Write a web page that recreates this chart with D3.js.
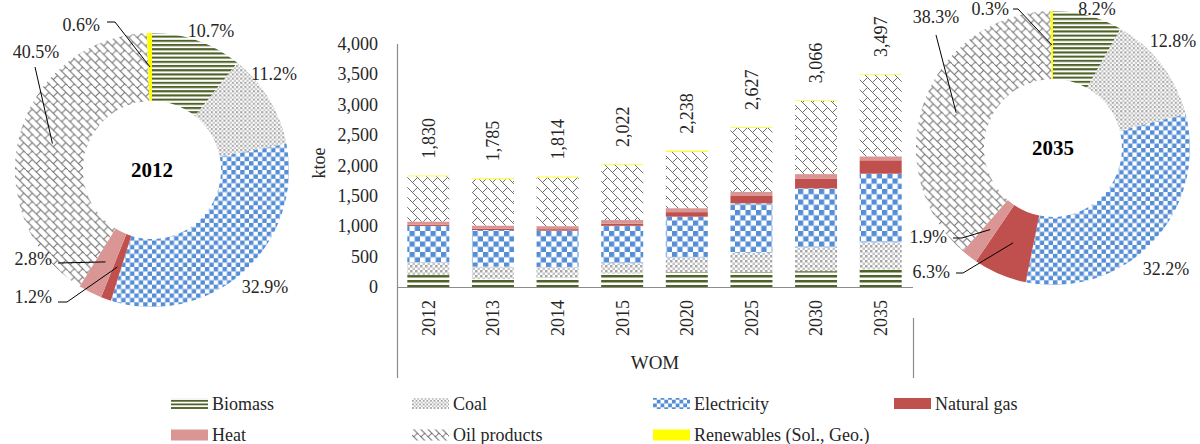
<!DOCTYPE html>
<html>
<head>
<meta charset="utf-8">
<script src="https://cdn.jsdelivr.net/npm/d3@7"></script>
<style>
  html, body { margin: 0; padding: 0; background: #fff; }
  svg { display: block; }
  text { font-family: "Liberation Serif", "DejaVu Serif", serif; }
</style>
</head>
<body>
<svg id="chart" width="1200" height="444"></svg>
<script>
// ---- Final energy demand by fuel, WOM scenario (ktoe) ----
const years = ["2012", "2013", "2014", "2015", "2020", "2025", "2030", "2035"];
const fuels = ["Biomass", "Coal", "Electricity", "Natural gas", "Heat", "Oil products", "Renewables (Sol., Geo.)"];

const biomass     = [196, 130, 150, 220, 250, 250, 260, 287];
const coal        = [205, 205, 180, 170, 235, 315, 390, 448];
const electricity = [602, 600, 595, 615, 670, 810, 970, 1126];
const naturalGas  = [22, 20, 25, 35, 75, 120, 155, 220];
const heat        = [51, 55, 50, 60, 65, 70, 80, 66];
const oilProducts = [743, 760, 800, 910, 925, 1050, 1200, 1340];
const renewables  = [11, 15, 14, 12, 18, 12, 11, 10];
const totals      = [1830, 1785, 1814, 2022, 2238, 2627, 3066, 3497];

// fuel shares (%) in the two donut years
const share2012 = [10.7, 11.2, 32.9, 1.2, 2.8, 40.5, 0.6];
const share2035 = [8.2, 12.8, 32.2, 6.3, 1.9, 38.3, 0.3];

const yTicks = [0, 500, 1000, 1500, 2000, 2500, 3000, 3500, 4000];
const axisTitle = "ktoe";
const groupTitle = "WOM";

// ---- styling ----
const fuelKeys = ["biomass", "coal", "electricity", "gas", "heat", "oil", "renew"];
const solidColors = { gas: "#C0504D", heat: "#D99694", renew: "#FFFF00" };
const font = "Liberation Serif";

const svg = d3.select("#chart");
const defs = svg.append("defs");

// Fill patterns, one set per scale (bars, donuts, legend)
function addPatterns(tag, s) {
  const pat = (name, w, h) => defs.append("pattern")
    .attr("id", `${name}-${tag}`)
    .attr("patternUnits", "userSpaceOnUse")
    .attr("width", w).attr("height", h);

  // Biomass: dark olive horizontal stripes
  let p = pat("biomass", 10, 4 * s);
  p.append("rect").attr("width", 10).attr("height", 4 * s).attr("fill", "#fff");
  p.append("rect").attr("width", 10).attr("height", 2 * s).attr("fill", "#4F6228");

  // Coal: grey confetti dots
  p = pat("coal", 4 * s, 4 * s);
  p.append("rect").attr("width", 4 * s).attr("height", 4 * s).attr("fill", "#fff");
  p.append("rect").attr("width", 2 * s).attr("height", 2 * s).attr("fill", "#A6A6A6");
  p.append("rect").attr("x", 2 * s).attr("y", 2 * s).attr("width", 2 * s).attr("height", 2 * s).attr("fill", "#C4C4C4");

  // Electricity: blue checkerboard
  const c = 4.2 * s;
  p = pat("electricity", 2 * c, 2 * c);
  p.append("rect").attr("width", 2 * c).attr("height", 2 * c).attr("fill", "#fff");
  p.append("rect").attr("width", c).attr("height", c).attr("fill", "#558ED5");
  p.append("rect").attr("x", c).attr("y", c).attr("width", c).attr("height", c).attr("fill", "#558ED5");

  // Oil products: grey shingle
  const k = s;
  p = pat("oil", 8 * k, 16 * k);
  p.append("rect").attr("width", 8 * k).attr("height", 16 * k).attr("fill", "#fff");
  const segs = [
    [-1, -1, 9, 9], [-1, 7, 9, 17],
    [6, 6, 2, 10], [6, 14, 4, 16], [4, 0, 2, 2]
  ];
  p.append("path")
    .attr("d", segs.map(q => `M${q[0] * k},${q[1] * k}L${q[2] * k},${q[3] * k}`).join(""))
    .attr("stroke", "#6E6E6E").attr("stroke-width", 1).attr("fill", "none");
}
addPatterns("bar", 1.25);
addPatterns("donut", 1.05);
addPatterns("legend", 0.9);

const fillFor = (key, tag) => solidColors[key] || `url(#${key}-${tag})`;

// ================= Stacked bar chart =================
const seriesArrays = [biomass, coal, electricity, naturalGas, heat, oilProducts, renewables];
const rows = years.map((yr, i) => {
  const r = { year: yr };
  fuelKeys.forEach((k, j) => { r[k] = seriesArrays[j][i]; });
  return r;
});
const stacked = d3.stack().keys(fuelKeys)(rows);

const x = d3.scaleBand().domain(years).range([396, 913]).paddingInner(0.35).paddingOuter(0.175);
const y = d3.scaleLinear().domain([0, 4000]).range([287, 43.5]);

const barG = svg.append("g");
barG.selectAll("g.series")
  .data(stacked)
  .join("g")
  .attr("class", "series")
  .attr("fill", d => fillFor(d.key, "bar"))
  .selectAll("rect")
  .data(d => d)
  .join("rect")
  .attr("x", d => x(d.data.year))
  .attr("width", x.bandwidth())
  .attr("y", d => y(d[1]))
  .attr("height", d => y(d[0]) - y(d[1]));

// y axis
const yAxis = svg.append("g")
  .attr("transform", "translate(397,0)")
  .call(d3.axisLeft(y).tickValues(yTicks).tickSize(0).tickPadding(19).tickFormat(d3.format(",")));
yAxis.select(".domain").remove();
yAxis.selectAll("text").attr("font-family", font).attr("font-size", 18).attr("fill", "#262626");

// x axis
const xAxis = svg.append("g")
  .attr("transform", "translate(0,287)")
  .call(d3.axisBottom(x).tickSize(0));
xAxis.select(".domain").remove();
xAxis.selectAll("text")
  .attr("font-family", font).attr("font-size", 18).attr("fill", "#262626")
  .attr("transform", "rotate(-90)")
  .attr("text-anchor", "end")
  .attr("x", -13).attr("y", 0).attr("dy", "0.35em");

// axis lines and category group separators
const axisColor = "#8C8C8C";
svg.append("line").attr("x1", 397).attr("x2", 913).attr("y1", 287.5).attr("y2", 287.5)
  .attr("stroke", axisColor).attr("stroke-width", 1.2);
svg.append("line").attr("x1", 397.5).attr("x2", 397.5).attr("y1", 44).attr("y2", 378)
  .attr("stroke", axisColor).attr("stroke-width", 1.2);
svg.append("line").attr("x1", 913.5).attr("x2", 913.5).attr("y1", 318).attr("y2", 378)
  .attr("stroke", axisColor).attr("stroke-width", 1.2);

// total labels above each bar
svg.append("g").selectAll("text")
  .data(years)
  .join("text")
  .attr("transform", (d, i) => `translate(${x(d) + x.bandwidth() / 2},${y(totals[i]) - 17}) rotate(-90)`)
  .attr("text-anchor", "start")
  .attr("dy", "0.35em")
  .attr("font-size", 18).attr("fill", "#262626")
  .text((d, i) => d3.format(",")(totals[i]));

// axis and group titles
svg.append("text")
  .attr("transform", "translate(319,163) rotate(-90)")
  .attr("text-anchor", "middle").attr("dy", "0.35em")
  .attr("font-size", 18).attr("fill", "#262626")
  .text(axisTitle);
svg.append("text")
  .attr("x", 655).attr("y", 369)
  .attr("text-anchor", "middle")
  .attr("font-size", 19).attr("fill", "#262626")
  .text(groupTitle);

// ================= Donuts =================
const pie = d3.pie().sort(null).value(d => d.v).startAngle(0).endAngle(2 * Math.PI);
const arc = d3.arc().innerRadius(69).outerRadius(137);

// label placement relative to the donut centre: [dx, dy, anchor, leader elbow points]
const layout2012 = [
  { dx: 59,   dy: -133, anchor: "middle" },
  { dx: 122,  dy: -90,  anchor: "middle" },
  { dx: 113,  dy: 123,  anchor: "middle" },
  { dx: -100, dy: 133,  anchor: "end", leader: [[-94, 132], [-85, 132]] },
  { dx: -100, dy: 95,   anchor: "end", leader: [[-94, 93]] },
  { dx: -116, dy: -112, anchor: "middle", leader: [[-117, -103]] },
  { dx: -52,  dy: -139, anchor: "end", leader: [[-45, -148], [-37, -148]] }
];
const layout2035 = [
  { dx: 44,   dy: -133, anchor: "middle" },
  { dx: 120,  dy: -101, anchor: "middle" },
  { dx: 113,  dy: 127,  anchor: "middle" },
  { dx: -103, dy: 130,  anchor: "end", leader: [[-97, 125], [-90, 125]] },
  { dx: -106, dy: 95,   anchor: "end", leader: [[-100, 90], [-91, 90]] },
  { dx: -117, dy: -125, anchor: "middle", leader: [[-117, -113]] },
  { dx: -44,  dy: -133, anchor: "end", leader: [[-40, -139], [-35, -139]] }
];

function drawDonut(cx, cy, shares, yearLabel, layout) {
  const data = pie(shares.map((v, i) => ({ key: fuelKeys[i], v })));
  const g = svg.append("g").attr("transform", `translate(${cx},${cy})`);
  g.selectAll("path.slice")
    .data(data)
    .join("path")
    .attr("class", "slice")
    .attr("d", arc)
    .attr("fill", d => fillFor(d.data.key, "donut"));

  // leader lines from label to slice centroid
  g.selectAll("path.leader")
    .data(data.filter((d, i) => layout[i].leader))
    .join("path")
    .attr("class", "leader")
    .attr("fill", "none").attr("stroke", "#000").attr("stroke-width", 1)
    .attr("d", d => {
      const L = layout[d.index];
      return d3.line()([...L.leader, arc.centroid(d)]);
    });

  g.selectAll("text.pct")
    .data(data)
    .join("text")
    .attr("class", "pct")
    .attr("x", d => layout[d.index].dx)
    .attr("y", d => layout[d.index].dy)
    .attr("text-anchor", d => layout[d.index].anchor)
    .attr("font-size", 18).attr("fill", "#262626")
    .text(d => d.data.v.toFixed(1) + "%");

  g.append("text")
    .attr("text-anchor", "middle").attr("dy", "0.35em")
    .attr("font-size", 21).attr("font-weight", "bold").attr("fill", "#000")
    .text(yearLabel);
}
drawDonut(152, 170, share2012, "2012", layout2012);
drawDonut(1053, 148, share2035, "2035", layout2035);

// ================= Legend =================
const legendCols = [171, 412, 653, 894];
const legendRows = [403.5, 435];
const legend = svg.append("g").selectAll("g")
  .data(fuels)
  .join("g")
  .attr("transform", (d, i) => `translate(${legendCols[i % 4]},${legendRows[Math.floor(i / 4)]})`);
legend.append("rect")
  .attr("x", 0).attr("y", -5.5)
  .attr("width", 37).attr("height", 11)
  .attr("fill", (d, i) => fillFor(fuelKeys[i], "legend"));
legend.append("text")
  .attr("x", 41).attr("y", 6)
  .attr("font-size", 18).attr("fill", "#262626")
  .text(d => d);
</script>
</body>
</html>
